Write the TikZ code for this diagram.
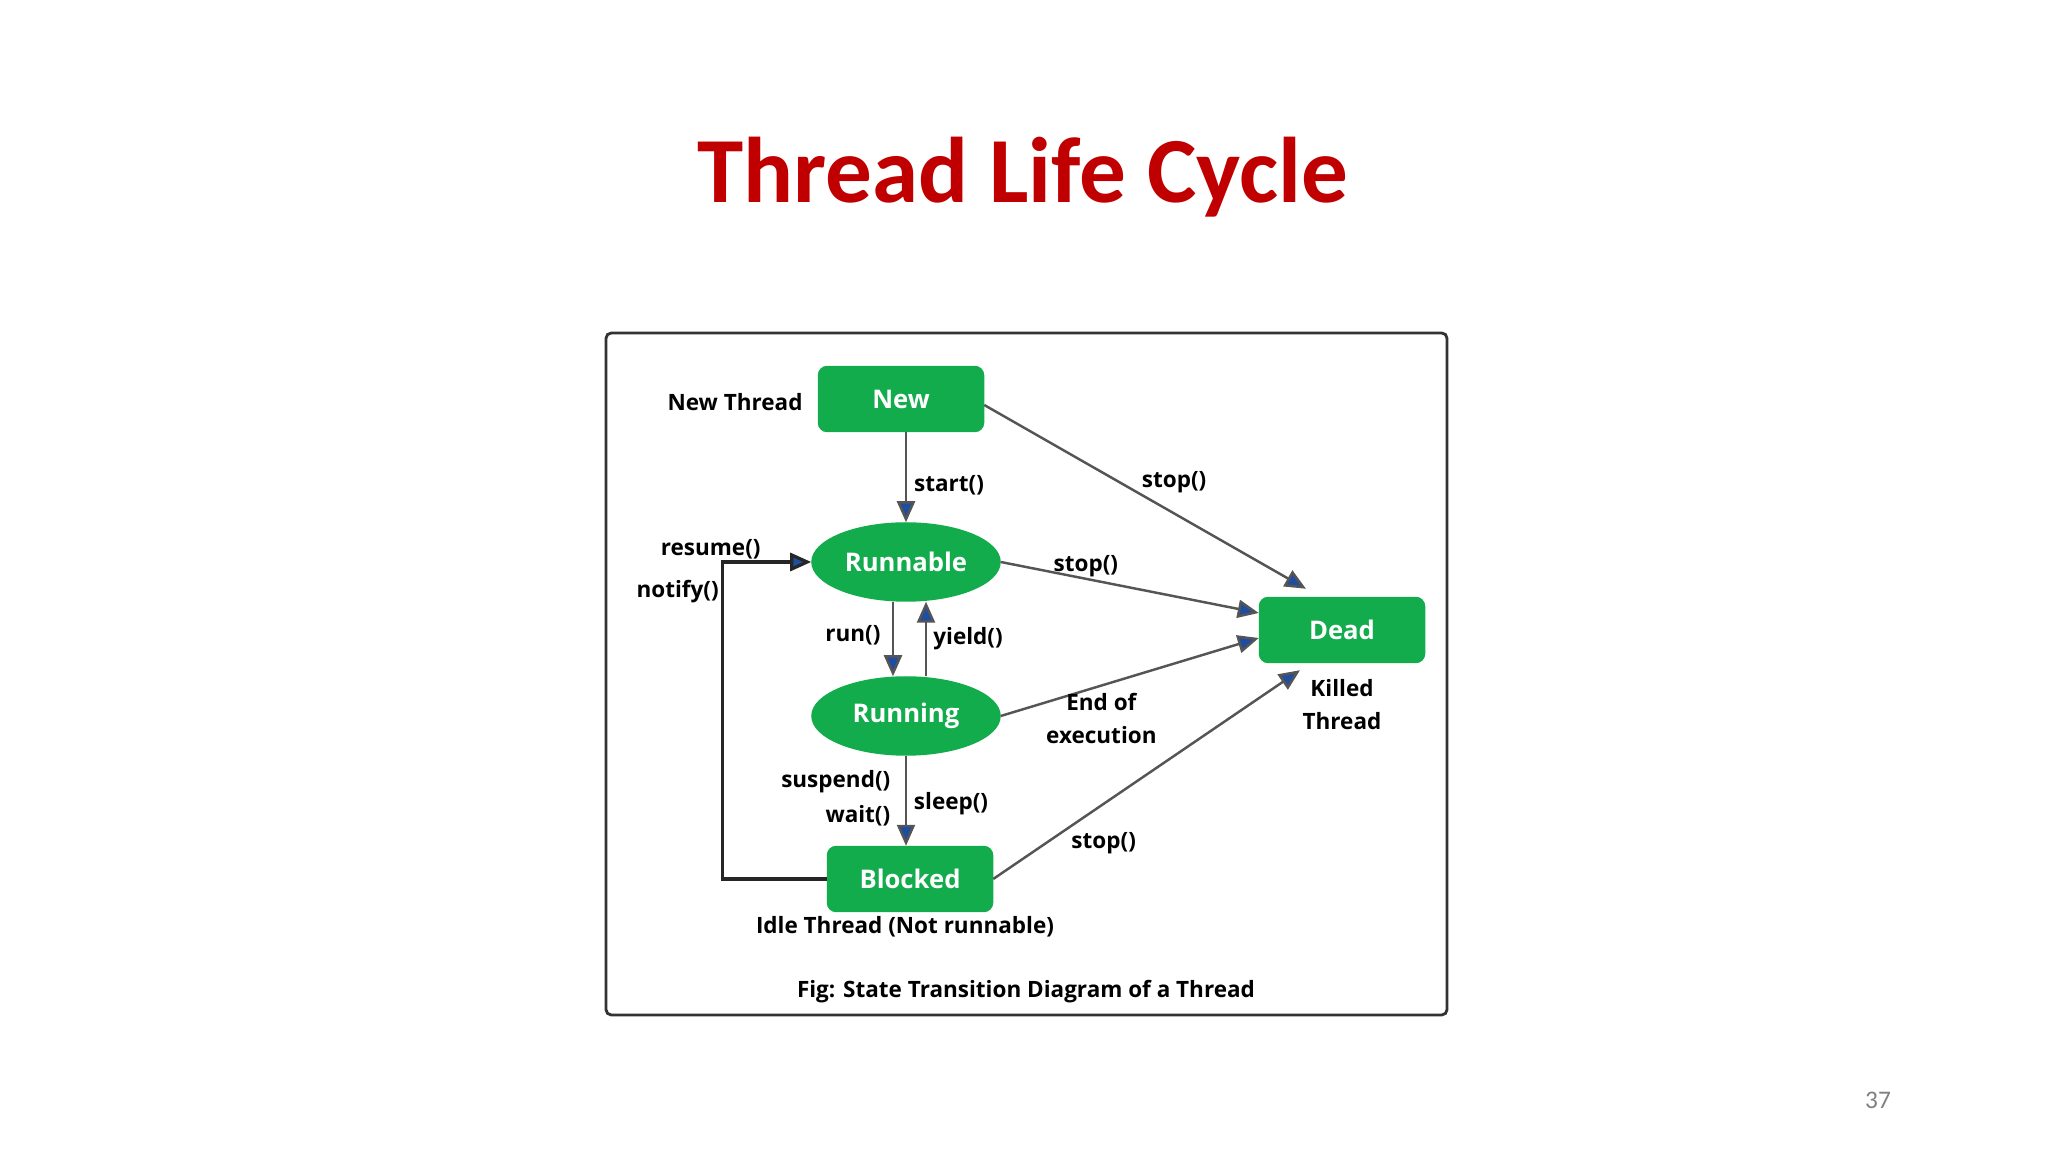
\documentclass[tikz,border=0pt]{standalone}
\usepackage{fontspec}
\setmainfont{Open Sans}
\newfontfamily\slidefont{Carlito}
\usepackage{xcolor}
\usetikzlibrary{shapes.geometric, arrows.meta, positioning, calc}

\definecolor{stategreen}{RGB}{18,172,76}
\definecolor{tipblue}{RGB}{31,78,160}
\definecolor{linegray}{RGB}{85,85,85}
\definecolor{titlered}{RGB}{192,0,0}

\begin{document}
\begin{tikzpicture}[
    x=0.01cm, y=0.01cm,
    state/.style={draw=stategreen, fill=stategreen, rectangle, rounded corners=2.5pt, minimum width=1.65cm, minimum height=0.65cm, text=white, font=\bfseries\fontsize{7.3}{9}\selectfont},
    stateoval/.style={state, ellipse, rounded corners=0pt, minimum width=1.88cm, minimum height=0.78cm, inner sep=0pt},
    lbl/.style={font=\bfseries\fontsize{6.4}{9.3}\selectfont, inner sep=1pt},
    arrow/.style={draw=linegray, line width=0.7pt, -{Triangle[length=0.21cm, width=0.18cm, fill=tipblue]}},
    loopline/.style={arrow, draw=black!85, line width=0.9pt},
    frame/.style={draw=black!80, line width=0.8pt, rounded corners=1.5pt}
]
    \useasboundingbox (0,0) rectangle (2048,1152);

    % Slide title and page number
    \node[font=\slidefont\bfseries\fontsize{26.5}{30}\selectfont, text=titlered, anchor=base] (title) at (1023,949) {Thread Life Cycle};
    \node[font=\slidefont\fontsize{7.2}{9}\selectfont, text=black!50] (pagenum) at (1878,52) {37};

    % Figure frame
    \draw[frame] (606,137) rectangle (1447,819);

    % States
    \node[state] (new) at (901,753) {New};
    \node[stateoval] (runnable) at (906,590) {Runnable};
    \node[stateoval] (running) at (906,436) {Running};
    \node[state] (blocked) at (910,273) {Blocked};
    \node[state] (dead) at (1342,522) {Dead};

    % State notes
    \node[lbl, left=0.16cm of new, yshift=-0.03cm, xshift=0.05cm] (newlbl) {New Thread};
    \node[lbl, below=0.12cm of dead, align=center] (killedlbl) {Killed\\Thread};
    \node[lbl, below=0cm of blocked, xshift=-0.05cm] (idlelbl) {Idle Thread (Not runnable)};
    \node[lbl] (figcap) at (1026,160) {Fig: State Transition Diagram of a Thread};

    % Transitions
    \draw[arrow] (new.south -| runnable) -- node[lbl, pos=0.55, xshift=0.43cm, yshift=-0.04cm] (startlbl) {start()} (runnable);
    \draw[arrow] ([yshift=-0.06cm]new.east) -- node[lbl, pos=0.59, yshift=0.31cm] (stoplbla) {stop()} ([xshift=-0.36cm, yshift=0.08cm]dead.north);
    \draw[arrow] (runnable.east) -- node[lbl, pos=0.33, yshift=0.125cm] (stoplblb) {stop()} ([yshift=0.17cm]dead.west);
    \draw[arrow] ([xshift=-0.13cm]runnable.south) -- node[lbl, pos=0.45, xshift=-0.4cm] (runlbl) {run()} ([xshift=-0.13cm]running.north);
    \draw[arrow] ([xshift=0.2cm]running.north) -- node[lbl, pos=0.5, xshift=0.42cm] (yieldlbl) {yield()} ([xshift=0.2cm]runnable.south);
    \draw[arrow] (running.east) -- node[lbl, pos=0.39, yshift=-0.33cm, align=center] (endlbl) {End of\\execution} ([yshift=-0.08cm]dead.west);
    \draw[arrow] (running.south) -- node[lbl, pos=0.53, xshift=0.45cm] (sleeplbl) {sleep()} node[lbl, pos=0.47, anchor=east, xshift=-0.11cm, align=right, font=\bfseries\fontsize{6.4}{10}\selectfont] (waitlbl) {suspend()\\wait()} (running.south |- blocked.north);
    \draw[arrow] (blocked.east) -- node[lbl, pos=0.36, yshift=-0.39cm] (stoplblc) {stop()} ([xshift=-0.42cm, yshift=-0.07cm]dead.south);

    % Back to runnable
    \draw[loopline] (blocked.west) -- ++(-1.04cm,0) coordinate (loopturn) |- node[lbl, pos=0.5, xshift=-0.12cm, yshift=0.13cm] (resumelbl) {resume()} node[lbl, pos=0.5, xshift=-0.45cm, yshift=-0.3cm] (notifylbl) {notify()} (runnable.west);

\end{tikzpicture}
\end{document}
